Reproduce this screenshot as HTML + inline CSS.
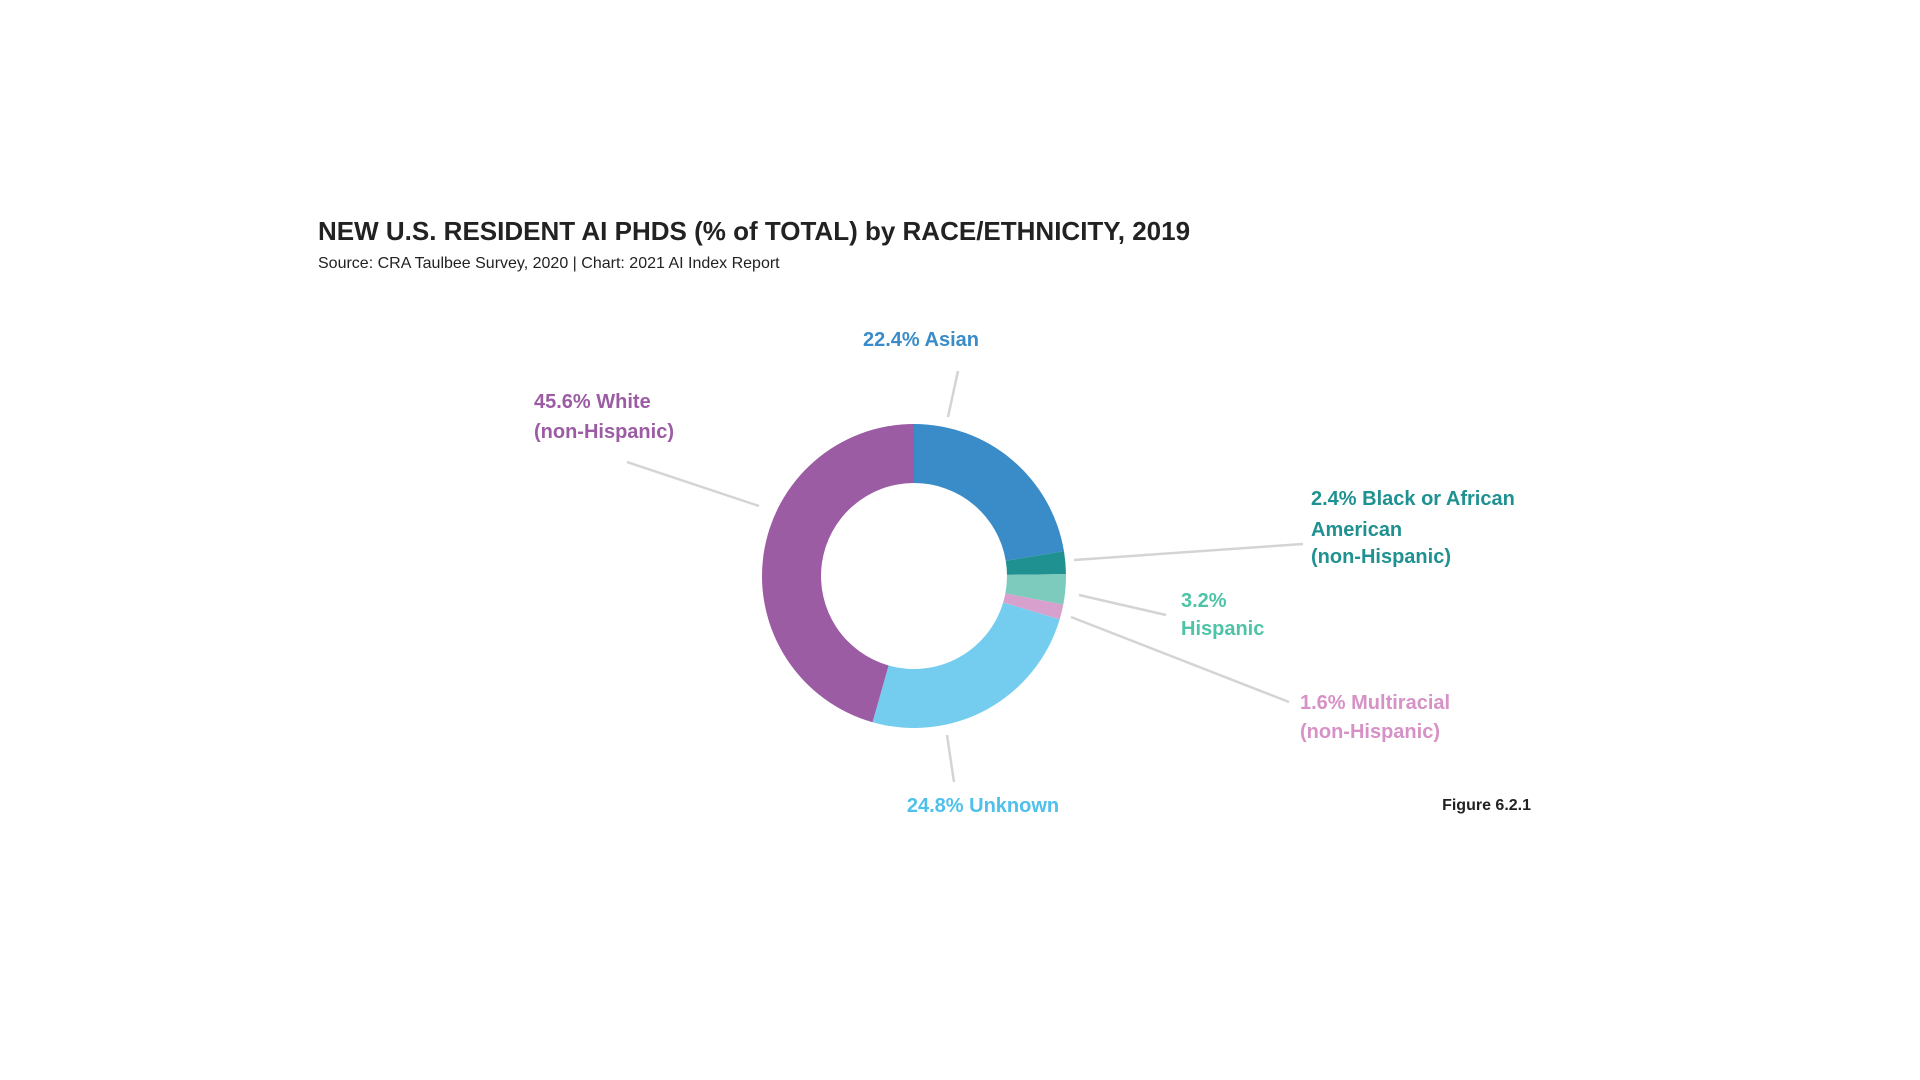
<!DOCTYPE html>
<html><head><meta charset="utf-8">
<style>
html,body{margin:0;padding:0;background:#fff;width:1920px;height:1080px;overflow:hidden}
svg{display:block}
text{font-family:"Liberation Sans",sans-serif}
.lbl{font-size:20px;font-weight:bold}
</style></head>
<body>
<svg id="chart" width="1920" height="1080">
  <text x="318" y="240" font-size="26" font-weight="bold" fill="#222">NEW U.S. RESIDENT AI PHDS (% of TOTAL) by RACE/ETHNICITY, 2019</text>
  <text x="318" y="268" font-size="16" fill="#222">Source: CRA Taulbee Survey, 2020 | Chart: 2021 AI Index Report</text>
  <g id="slices"></g>
  <g stroke="#d4d4d4" stroke-width="2.5">
    <line x1="958" y1="371" x2="948" y2="417"/>
    <line x1="627" y1="462" x2="759" y2="506"/>
    <line x1="1074" y1="560" x2="1303" y2="544"/>
    <line x1="1079" y1="595" x2="1166" y2="615"/>
    <line x1="1071" y1="617" x2="1289" y2="702"/>
    <line x1="947" y1="735" x2="954" y2="782"/>
  </g>
  <text class="lbl" x="921" y="346" text-anchor="middle" fill="#3a8cc8">22.4% Asian</text>
  <text class="lbl" fill="#9b5ca3"><tspan x="534" y="408">45.6% White</tspan><tspan x="534" y="438">(non-Hispanic)</tspan></text>
  <text class="lbl" fill="#1f9190"><tspan x="1311" y="505">2.4% Black or African</tspan><tspan x="1311" y="536">American</tspan><tspan x="1311" y="563">(non-Hispanic)</tspan></text>
  <text class="lbl" fill="#4fc3a8"><tspan x="1181" y="607">3.2%</tspan><tspan x="1181" y="635">Hispanic</tspan></text>
  <text class="lbl" fill="#d692c6"><tspan x="1300" y="709">1.6% Multiracial</tspan><tspan x="1300" y="738">(non-Hispanic)</tspan></text>
  <text class="lbl" x="983" y="812" text-anchor="middle" fill="#4fc0ea">24.8% Unknown</text>
  <text x="1531" y="810" text-anchor="end" font-size="16" font-weight="bold" fill="#222">Figure 6.2.1</text>
</svg>
<script>
const categories = ["Asian","Black or African American","Hispanic","Multiracial","Unknown","White"];
const values = [22.4, 2.4, 3.2, 1.6, 24.8, 45.6];
const colors = ["#3a8cc8","#1f9190","#7ccbbd","#d8a0cc","#74cdee","#9b5ca3"];
const cx = 914, cy = 576, R = 152, r = 93;
const total = values.reduce((a,b)=>a+b,0);
function angle(v){ return v/total*2*Math.PI - Math.PI/2; }
function pt(rad, a){ return [cx + rad*Math.cos(a), cy + rad*Math.sin(a)]; }
const g = document.getElementById('slices');
let cum = 0;
values.forEach((v,i)=>{
  const a0 = angle(cum), a1 = angle(cum+v); cum += v;
  const large = (a1-a0) > Math.PI ? 1 : 0;
  const p0 = pt(R,a0), p1 = pt(R,a1), q1 = pt(r,a1), q0 = pt(r,a0);
  const d = `M${p0[0]},${p0[1]} A${R},${R} 0 ${large} 1 ${p1[0]},${p1[1]} L${q1[0]},${q1[1]} A${r},${r} 0 ${large} 0 ${q0[0]},${q0[1]} Z`;
  const path = document.createElementNS('http://www.w3.org/2000/svg','path');
  path.setAttribute('d', d);
  path.setAttribute('fill', colors[i]);
  
  
  g.appendChild(path);
});
</script>
</body></html>
